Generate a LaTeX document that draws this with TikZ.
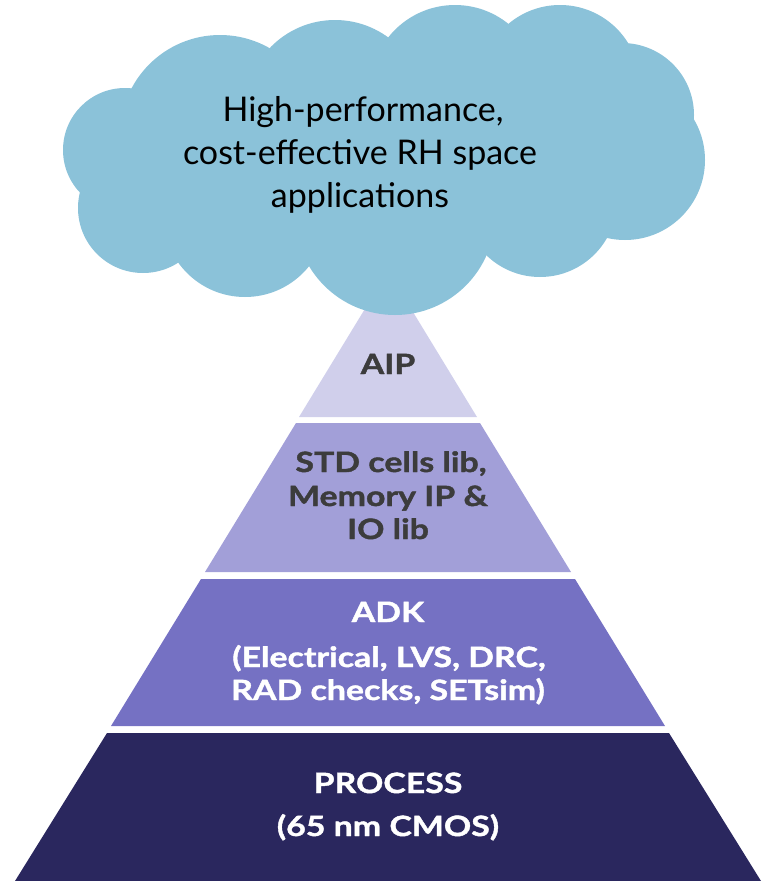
\documentclass[tikz,border=0pt]{standalone}
\usepackage{fontspec}
\setmainfont{Lato}
\newfontfamily\boldlato[FakeStretch=1.21,FakeBold=1.4]{Lato Bold}
\definecolor{cloudblue}{HTML}{8BC2D9}
\definecolor{tierA}{HTML}{D0CFEB}
\definecolor{tierB}{HTML}{A29FD8}
\definecolor{tierC}{HTML}{7571C3}
\definecolor{tierD}{HTML}{2A275E}
\definecolor{darktext}{HTML}{3C3C3C}
\begin{document}
\begin{tikzpicture}[x=1pt,y=-1pt,
  cloudtxt/.style={anchor=base,inner sep=0pt,font=\fontsize{34}{40}\selectfont,text=black},
  tiertxt/.style={anchor=base,inner sep=0pt,font=\boldlato\fontsize{28}{33}\selectfont}]
\useasboundingbox (0,0) rectangle (761,881);
% pyramid tiers (apex at (388,271), slope 0.608)
\fill[tierA] (388,271) -- (477,417) -- (299,417) -- cycle;
\fill[tierB] (296,423) -- (480,423) -- (571,572) -- (205,572) -- cycle;
\fill[tierC] (201,579) -- (575,579) -- (665,726) -- (111,726) -- cycle;
\fill[tierD] (107,733) -- (669,733) -- (761,881) -- (15,881) -- cycle;
% cloud
\begin{scope}[cloudblue]
\fill (220,135) circle (100);
\fill (335,110) circle (90);
\fill (455,90) circle (85);
\fill (560,85) circle (80);
\fill (622,115) circle (72);
\fill (625,160) circle (80);
\fill (540,200) circle (77);
\fill (395,215) circle (100);
\fill (245,215) circle (82);
\fill (143,208) circle (65);
\fill (125,150) circle (62);
\fill (220,135) -- (335,110) -- (455,90) -- (560,85) -- (625,160) -- (540,200) -- (395,215) -- (245,215) -- (143,208) -- (125,150) -- cycle;
\end{scope}
% cloud text
\node[cloudtxt] (c1) at (363,121) {High-performance,};
\node[cloudtxt] (c2) at (360,164) {cost-effective RH space};
\node[cloudtxt] (c3) at (360,207) {applications};
% tier texts
\node[tiertxt,text=darktext] (aip) at (388,374) {AIP};
\node[tiertxt,text=darktext] (s1) at (391,472) {STD cells lib,};
\node[tiertxt,text=darktext] (s2) at (388,506) {Memory IP \&};
\node[tiertxt,text=darktext] (s3) at (388,539) {IO lib};
\node[tiertxt,text=white] (a1) at (388,622) {ADK};
\node[tiertxt,text=white] (a2) at (389,667) {(Electrical, LVS, DRC,};
\node[tiertxt,text=white] (a3) at (388,700) {RAD checks, SETsim)};
\node[tiertxt,text=white] (p1) at (388,793) {PROCESS};
\node[tiertxt,text=white] (p2) at (388,836) {(65 nm CMOS)};
\end{tikzpicture}
\end{document}
